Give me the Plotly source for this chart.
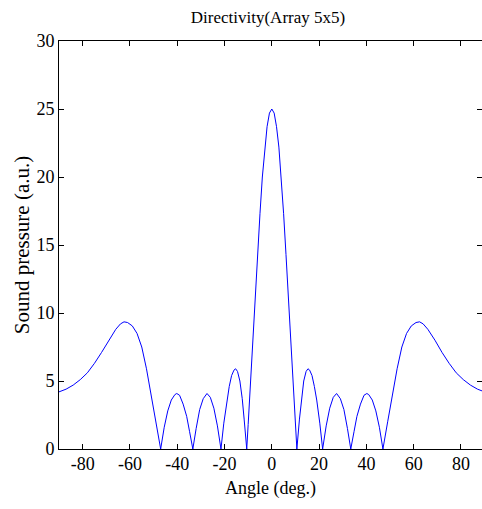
import plotly.graph_objects as go

# Angle (deg.) and sound pressure (a.u.)
angle_left = [-90, -87, -84, -81, -78, -75, -72, -69, -66, -64, -62.5, -61, -59, -57, -55, -53, -51, -49,
              -47, -45.5, -44, -42.5, -41, -40.2, -39, -37.5, -36, -34.8,
              -33.4, -32, -30.5, -29, -27.4, -26, -24.5, -23,
              -21.5, -20.3, -19, -18, -17, -16, -15.3, -14.5, -13.5, -12.5, -11.7,
              -10.6, -10, -9, -8, -7, -6, -5, -4, -3, -2, -1]
pressure_left = [4.2, 4.4, 4.7, 5.1, 5.6, 6.3, 7.1, 8.0, 8.8, 9.2, 9.35, 9.3, 9.05, 8.5, 7.5, 5.9, 4.0, 2.0,
                 0.0, 1.6, 2.8, 3.6, 4.0, 4.08, 3.95, 3.3, 2.4, 1.3,
                 0.0, 1.5, 2.9, 3.7, 4.08, 3.8, 3.0, 1.7,
                 0.0, 1.9, 3.6, 4.6, 5.4, 5.8, 5.9, 5.7, 5.0, 3.7, 2.2,
                 0.0, 1.8, 5.0, 8.2, 11.2, 14.3, 17.3, 20.0, 22.2, 23.7, 24.7]
angle_center = [0]
pressure_center = [25.0]
angle_right = [1, 2, 3, 4, 5, 6, 7, 8, 9, 10, 10.6,
               11.7, 12.5, 13.5, 14.5, 15.3, 16, 17, 18, 19, 20.3, 21.5,
               23, 24.5, 26, 27.4, 29, 30.5, 32, 33.4,
               34.8, 36, 37.5, 39, 40.2, 41, 42.5, 44, 45.5, 47,
               49, 51, 53, 55, 57, 59, 61, 62.5, 64, 66, 69, 72, 75, 78, 81, 84, 87, 90]
pressure_right = [24.7, 23.7, 22.2, 20.0, 17.3, 14.3, 11.2, 8.2, 5.0, 1.8, 0.0,
                  2.2, 3.7, 5.0, 5.7, 5.9, 5.8, 5.4, 4.6, 3.6, 1.9, 0.0,
                  1.7, 3.0, 3.8, 4.08, 3.7, 2.9, 1.5, 0.0,
                  1.3, 2.4, 3.3, 3.95, 4.08, 4.0, 3.6, 2.8, 1.6, 0.0,
                  2.0, 4.0, 5.9, 7.5, 8.5, 9.05, 9.3, 9.35, 9.2, 8.8, 8.0, 7.1, 6.3, 5.6, 5.1, 4.7, 4.4, 4.2]

angles = angle_left + angle_center + angle_right
pressure = pressure_left + pressure_center + pressure_right

x_ticks = [-80, -60, -40, -20, 0, 20, 40, 60, 80]
y_ticks = [0, 5, 10, 15, 20, 25, 30]

FONT = "Times New Roman, Liberation Serif, serif"

fig = go.Figure()
fig.add_trace(go.Scatter(x=angles, y=pressure, mode="lines",
                         line=dict(color="#0000FF", width=1), showlegend=False,
                         hoverinfo="skip"))

fig.update_layout(
    width=482, height=509,
    margin=dict(l=59, r=0, t=41, b=60),
    paper_bgcolor="white", plot_bgcolor="white",
    font=dict(family=FONT, color="black", size=18),
    title=dict(text="Directivity(Array 5x5)", x=(268 - 59) / (482 - 59), xref="paper",
               xanchor="center", y=1 - 17 / 509, yanchor="middle",
               font=dict(family=FONT, size=17, color="black")),
)
fig.update_xaxes(range=[-90, 88.9], tickvals=x_ticks, ticktext=[str(v) for v in x_ticks],
                 ticks="inside", ticklen=5, tickcolor="black", tickwidth=1,
                 showline=True, linecolor="black", linewidth=1, mirror="ticks",
                 showgrid=False, zeroline=False, ticklabelstandoff=-2,
                 tickfont=dict(family=FONT, size=18),
                 title=dict(text="Angle (deg.)", font=dict(family=FONT, size=18), standoff=8))
fig.update_yaxes(range=[0, 30], tickvals=y_ticks, ticktext=[str(v) for v in y_ticks],
                 ticks="inside", ticklen=5, tickcolor="black", tickwidth=1,
                 showline=True, linecolor="black", linewidth=1, mirror="ticks",
                 showgrid=False, zeroline=False,
                 tickfont=dict(family=FONT, size=18),
                 title=dict(text="Sound pressure (a.u.)", font=dict(family=FONT, size=21), standoff=1))

fig.write_html("out.html")
